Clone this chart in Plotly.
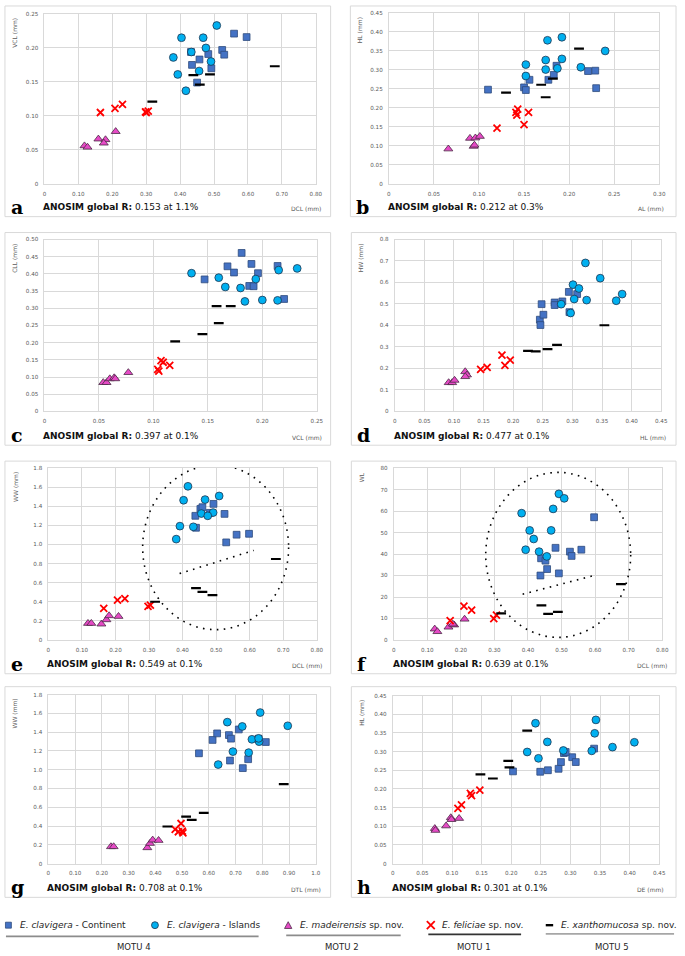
import plotly.graph_objects as go

W, H = 685, 956

# ---------------- DATA ----------------
# Panel a: DCL vs VCL
A_CONT_X = [0.559, 0.596, 0.524, 0.530, 0.483, 0.457, 0.435, 0.492, 0.450, 0.432]
A_CONT_Y = [0.221, 0.216, 0.197, 0.190, 0.191, 0.183, 0.175, 0.170, 0.149, 0.194]
A_ISL_X = [0.508, 0.404, 0.468, 0.476, 0.433, 0.380, 0.491, 0.456, 0.393, 0.417]
A_ISL_Y = [0.233, 0.215, 0.215, 0.200, 0.194, 0.186, 0.180, 0.166, 0.161, 0.137]
A_MAD_X = [0.118, 0.127, 0.159, 0.180, 0.175, 0.210]
A_MAD_Y = [0.056, 0.054, 0.066, 0.065, 0.060, 0.077]
A_FEL_X = [0.165, 0.208, 0.230, 0.298, 0.306, 0.300]
A_FEL_Y = [0.105, 0.111, 0.117, 0.106, 0.107, 0.105]
A_XAN_X = [0.318, 0.439, 0.488, 0.458, 0.679]
A_XAN_Y = [0.121, 0.160, 0.161, 0.146, 0.173]

# Panel b: AL vs HL
B_CONT_X = [0.110, 0.150, 0.152, 0.156, 0.177, 0.183, 0.186, 0.221, 0.229, 0.230]
B_CONT_Y = [0.248, 0.254, 0.247, 0.274, 0.274, 0.287, 0.311, 0.297, 0.298, 0.252]
B_ISL_X = [0.176, 0.192, 0.240, 0.152, 0.174, 0.192, 0.174, 0.187, 0.213, 0.152]
B_ISL_Y = [0.378, 0.386, 0.350, 0.314, 0.326, 0.329, 0.301, 0.304, 0.307, 0.284]
B_MAD_X = [0.066, 0.090, 0.096, 0.101, 0.094, 0.095]
B_MAD_Y = [0.092, 0.120, 0.121, 0.125, 0.099, 0.102]
B_FEL_X = [0.120, 0.143, 0.141, 0.142, 0.155, 0.150]
B_FEL_Y = [0.147, 0.197, 0.188, 0.181, 0.188, 0.156]
B_XAN_X = [0.130, 0.169, 0.174, 0.182, 0.211]
B_XAN_Y = [0.240, 0.261, 0.228, 0.277, 0.356]

# Panel c: VCL vs CLL
C_CONT_X = [0.181, 0.168, 0.190, 0.174, 0.196, 0.214, 0.147, 0.188, 0.192, 0.220]
C_CONT_Y = [0.461, 0.422, 0.429, 0.404, 0.402, 0.423, 0.384, 0.365, 0.364, 0.327]
C_ISL_X = [0.135, 0.160, 0.232, 0.215, 0.194, 0.166, 0.180, 0.184, 0.200, 0.214]
C_ISL_Y = [0.402, 0.389, 0.416, 0.411, 0.385, 0.362, 0.359, 0.320, 0.324, 0.323]
C_MAD_X = [0.054, 0.057, 0.060, 0.064, 0.065, 0.077]
C_MAD_Y = [0.084, 0.084, 0.095, 0.098, 0.095, 0.113]
C_FEL_X = [0.104, 0.105, 0.107, 0.109, 0.115]
C_FEL_Y = [0.122, 0.117, 0.148, 0.143, 0.134]
C_XAN_X = [0.120, 0.145, 0.160, 0.158, 0.171]
C_XAN_Y = [0.204, 0.225, 0.257, 0.306, 0.306]

# Panel d: HL vs HW
D_CONT_X = [0.248, 0.245, 0.246, 0.251, 0.270, 0.270, 0.283, 0.294, 0.308, 0.295]
D_CONT_Y = [0.499, 0.427, 0.402, 0.450, 0.507, 0.495, 0.512, 0.556, 0.546, 0.462]
D_ISL_X = [0.322, 0.347, 0.301, 0.311, 0.303, 0.324, 0.281, 0.297, 0.374, 0.384]
D_ISL_Y = [0.691, 0.620, 0.590, 0.572, 0.523, 0.518, 0.499, 0.458, 0.515, 0.546]
D_MAD_X = [0.091, 0.097, 0.101, 0.119, 0.122, 0.119]
D_MAD_Y = [0.134, 0.134, 0.145, 0.185, 0.170, 0.162]
D_FEL_X = [0.145, 0.156, 0.181, 0.186, 0.195]
D_FEL_Y = [0.196, 0.205, 0.262, 0.214, 0.239]
D_XAN_X = [0.225, 0.238, 0.258, 0.274, 0.354]
D_XAN_Y = [0.282, 0.279, 0.290, 0.310, 0.401]

# Panel e: DCL vs WW
E_CONT_X = [0.440, 0.438, 0.453, 0.459, 0.492, 0.481, 0.525, 0.561, 0.598, 0.530]
E_CONT_Y = [1.175, 1.300, 1.373, 1.390, 1.425, 1.331, 1.320, 1.102, 1.112, 1.022]
E_ISL_X = [0.416, 0.403, 0.467, 0.509, 0.456, 0.491, 0.475, 0.392, 0.432, 0.381]
E_ISL_Y = [1.609, 1.463, 1.470, 1.508, 1.324, 1.334, 1.300, 1.192, 1.185, 1.056]
E_MAD_X = [0.118, 0.128, 0.158, 0.173, 0.181, 0.209]
E_MAD_Y = [0.174, 0.174, 0.167, 0.212, 0.254, 0.247]
E_FEL_X = [0.165, 0.206, 0.228, 0.297, 0.304]
E_FEL_Y = [0.330, 0.417, 0.434, 0.351, 0.365]
E_XAN_X = [0.318, 0.440, 0.459, 0.489, 0.678]
E_XAN_Y = [0.400, 0.542, 0.504, 0.469, 0.848]

# Panel f: DCL vs WL
F_CONT_X = [0.597, 0.482, 0.525, 0.559, 0.530, 0.439, 0.452, 0.457, 0.492, 0.437]
F_CONT_Y = [57.1, 42.9, 41.1, 42.0, 39.1, 38.0, 36.9, 33.0, 31.0, 30.0]
F_ISL_X = [0.492, 0.508, 0.475, 0.381, 0.405, 0.469, 0.417, 0.393, 0.433, 0.456]
F_ISL_Y = [68.0, 65.9, 61.0, 59.0, 51.0, 51.0, 47.0, 42.0, 41.1, 38.9]
F_MAD_X = [0.122, 0.130, 0.163, 0.180, 0.176, 0.211]
F_MAD_Y = [5.1, 3.9, 6.0, 7.0, 7.4, 9.7]
F_FEL_X = [0.168, 0.209, 0.232, 0.298, 0.306]
F_FEL_Y = [9.0, 15.8, 13.9, 9.9, 11.6]
F_XAN_X = [0.320, 0.440, 0.460, 0.489, 0.677]
F_XAN_Y = [12.4, 16.1, 12.1, 13.1, 26.0]

# Panel g: DTL vs WW
G_CONT_X = [0.563, 0.614, 0.631, 0.675, 0.683, 0.712, 0.679, 0.727, 0.747, 0.813, 0.786]
G_CONT_Y = [1.175, 1.317, 1.387, 1.369, 1.331, 1.429, 1.098, 1.017, 1.112, 1.295, 1.330]
G_ISL_X = [0.792, 0.669, 0.725, 0.895, 0.761, 0.788, 0.690, 0.749, 0.635, 0.786]
G_ISL_Y = [1.609, 1.507, 1.461, 1.468, 1.324, 1.299, 1.193, 1.182, 1.055, 1.334]
G_MAD_X = [0.234, 0.244, 0.370, 0.380, 0.390, 0.412]
G_MAD_Y = [0.180, 0.180, 0.169, 0.215, 0.251, 0.247]
G_FEL_X = [0.474, 0.486, 0.496, 0.501, 0.503]
G_FEL_Y = [0.364, 0.339, 0.427, 0.346, 0.328]
G_XAN_X = [0.445, 0.515, 0.536, 0.581, 0.880]
G_XAN_Y = [0.395, 0.501, 0.466, 0.540, 0.847]

# Panel h: DE vs HL
H_CONT_X = [0.203, 0.249, 0.262, 0.280, 0.284, 0.289, 0.303, 0.309, 0.340, 0.292]
H_CONT_Y = [0.247, 0.246, 0.250, 0.254, 0.272, 0.296, 0.285, 0.272, 0.308, 0.299]
H_ISL_X = [0.241, 0.343, 0.341, 0.227, 0.261, 0.246, 0.288, 0.336, 0.371, 0.408]
H_ISL_Y = [0.376, 0.385, 0.349, 0.299, 0.326, 0.282, 0.303, 0.302, 0.312, 0.325]
H_MAD_X = [0.071, 0.072, 0.090, 0.098, 0.099, 0.112]
H_MAD_Y = [0.094, 0.089, 0.101, 0.123, 0.118, 0.121]
H_FEL_X = [0.110, 0.116, 0.131, 0.133, 0.147]
H_FEL_Y = [0.148, 0.157, 0.188, 0.182, 0.197]
H_XAN_X = [0.148, 0.169, 0.195, 0.197, 0.227]
H_XAN_Y = [0.239, 0.228, 0.275, 0.258, 0.356]

# Tick values / labels
T_0_80_V = [0, 0.1, 0.2, 0.3, 0.4, 0.5, 0.6, 0.7, 0.8]
T_0_80_L = ["0", "0.10", "0.20", "0.30", "0.40", "0.50", "0.60", "0.70", "0.80"]
T_0_25_V = [0, 0.05, 0.10, 0.15, 0.20, 0.25]
T_0_25_L = ["0", "0.05", "0.10", "0.15", "0.20", "0.25"]
T_0_30_V = [0, 0.05, 0.10, 0.15, 0.20, 0.25, 0.30]
T_0_30_L = ["0", "0.05", "0.10", "0.15", "0.20", "0.25", "0.30"]
T_0_45_V = [0, 0.05, 0.10, 0.15, 0.20, 0.25, 0.30, 0.35, 0.40, 0.45]
T_0_45_L = ["0", "0.05", "0.10", "0.15", "0.20", "0.25", "0.30", "0.35", "0.40", "0.45"]
T_0_50_V = [0, 0.05, 0.10, 0.15, 0.20, 0.25, 0.30, 0.35, 0.40, 0.45, 0.50]
T_0_50_L = ["0", "0.05", "0.10", "0.15", "0.20", "0.25", "0.30", "0.35", "0.40", "0.45", "0.50"]
T_HW_V = [0, 0.1, 0.2, 0.3, 0.4, 0.5, 0.6, 0.7, 0.8]
T_HW_L = ["0", "0.1", "0.2", "0.3", "0.4", "0.5", "0.6", "0.7", "0.8"]
T_WW_V = [0, 0.2, 0.4, 0.6, 0.8, 1.0, 1.2, 1.4, 1.6, 1.8]
T_WW_L = ["0", "0.2", "0.4", "0.6", "0.8", "1.0", "1.2", "1.4", "1.6", "1.8"]
T_WL_V = [0, 10, 20, 30, 40, 50, 60, 70, 80]
T_WL_L = ["0", "10", "20", "30", "40", "50", "60", "70", "80"]
T_DTL_V = [0, 0.1, 0.2, 0.3, 0.4, 0.5, 0.6, 0.7, 0.8, 0.9, 1.0]
T_DTL_L = ["0", "0.10", "0.20", "0.30", "0.40", "0.50", "0.60", "0.70", "0.80", "0.90", "1.0"]

LETTERS = ["a", "b", "c", "d", "e", "f", "g", "h"]
X_TITLES = ["DCL (mm)", "AL (mm)", "VCL (mm)", "HL (mm)", "DCL (mm)", "DCL (mm)", "DTL (mm)", "DE (mm)"]
Y_TITLES = ["VCL (mm)", "HL (mm)", "CLL (mm)", "HW (mm)", "WW (mm)", "WL", "WW (mm)", "HL (mm)"]
ANOSIM_R = ["0.153", "0.212", "0.397", "0.477", "0.549", "0.639", "0.708", "0.301"]
ANOSIM_P = ["1.1%", "0.3%", "0.1%", "0.1%", "0.1%", "0.1%", "0.1%", "0.1%"]

SERIES_NAMES = ["<i>E. clavigera</i> - Continent", "<i>E. clavigera</i> - Islands",
                "<i>E. madeirensis</i> sp. nov.", "<i>E. feliciae</i> sp. nov.",
                "<i>E. xanthomucosa</i> sp. nov."]
MOTU_LABELS = ["MOTU 4", "MOTU 2", "MOTU 1", "MOTU 5"]

# ---------------- STYLE / LAYOUT ----------------
C_CONT, C_CONT_LINE = "#4472C4", "#2F4B7C"
C_ISL, C_ISL_LINE = "#00B0F0", "#1F3550"
C_MAD, C_MAD_LINE = "#E64AC6", "#4A2A45"
C_FEL = "#FF0000"
C_XAN = "#000000"
GRID = "#D9D9D9"
TICKC = "#595959"
FONT = "DejaVu Sans"

panels = [
    dict(data=[(A_CONT_X, A_CONT_Y), (A_ISL_X, A_ISL_Y), (A_MAD_X, A_MAD_Y), (A_FEL_X, A_FEL_Y), (A_XAN_X, A_XAN_Y)],
         xr=0.8, yr=0.25, xt=(T_0_80_V, T_0_80_L), yt=(T_0_25_V, T_0_25_L),
         plot=(43, 318, 11, 182), box=(3, 333, 3, 215)),
    dict(data=[(B_CONT_X, B_CONT_Y), (B_ISL_X, B_ISL_Y), (B_MAD_X, B_MAD_Y), (B_FEL_X, B_FEL_Y), (B_XAN_X, B_XAN_Y)],
         xr=0.30, yr=0.45, xt=(T_0_30_V, T_0_30_L), yt=(T_0_45_V, T_0_45_L),
         plot=(392, 666, 10, 182), box=(353, 683, 3, 215)),
    dict(data=[(C_CONT_X, C_CONT_Y), (C_ISL_X, C_ISL_Y), (C_MAD_X, C_MAD_Y), (C_FEL_X, C_FEL_Y), (C_XAN_X, C_XAN_Y)],
         xr=0.25, yr=0.50, xt=(T_0_25_V, T_0_25_L), yt=(T_0_50_V, T_0_50_L),
         plot=(43, 319, 238, 411), box=(3, 333, 231, 445)),
    dict(data=[(D_CONT_X, D_CONT_Y), (D_ISL_X, D_ISL_Y), (D_MAD_X, D_MAD_Y), (D_FEL_X, D_FEL_Y), (D_XAN_X, D_XAN_Y)],
         xr=0.45, yr=0.8, xt=(T_0_45_V, T_0_45_L), yt=(T_HW_V, T_HW_L),
         plot=(398, 668, 238, 411), box=(354, 683, 231, 445)),
    dict(data=[(E_CONT_X, E_CONT_Y), (E_ISL_X, E_ISL_Y), (E_MAD_X, E_MAD_Y), (E_FEL_X, E_FEL_Y), (E_XAN_X, E_XAN_Y)],
         xr=0.8, yr=1.8, xt=(T_0_80_V, T_0_80_L), yt=(T_WW_V, T_WW_L),
         plot=(47, 319, 468, 641), box=(3, 333, 461, 675)),
    dict(data=[(F_CONT_X, F_CONT_Y), (F_ISL_X, F_ISL_Y), (F_MAD_X, F_MAD_Y), (F_FEL_X, F_FEL_Y), (F_XAN_X, F_XAN_Y)],
         xr=0.8, yr=80, xt=(T_0_80_V, T_0_80_L), yt=(T_WL_V, T_WL_L),
         plot=(397, 669, 468, 641), box=(354, 683, 461, 675)),
    dict(data=[(G_CONT_X, G_CONT_Y), (G_ISL_X, G_ISL_Y), (G_MAD_X, G_MAD_Y), (G_FEL_X, G_FEL_Y), (G_XAN_X, G_XAN_Y)],
         xr=1.0, yr=1.8, xt=(T_DTL_V, T_DTL_L), yt=(T_WW_V, T_WW_L),
         plot=(47, 318, 696, 866), box=(3, 333, 688, 900)),
    dict(data=[(H_CONT_X, H_CONT_Y), (H_ISL_X, H_ISL_Y), (H_MAD_X, H_MAD_Y), (H_FEL_X, H_FEL_Y), (H_XAN_X, H_XAN_Y)],
         xr=0.45, yr=0.45, xt=(T_0_45_V, T_0_45_L), yt=(T_0_45_V, T_0_45_L),
         plot=(396, 666, 697, 866), box=(354, 683, 688, 900)),
]

marker_styles = [
    dict(symbol="square", size=6.8, color=C_CONT, line=dict(color=C_CONT_LINE, width=0.8)),
    dict(symbol="circle", size=7.8, color=C_ISL, line=dict(color=C_ISL_LINE, width=0.8)),
    dict(symbol="triangle-up", size=7.8, color=C_MAD, line=dict(color=C_MAD_LINE, width=0.8)),
    dict(symbol="x-thin", size=7, color=C_FEL, line=dict(color=C_FEL, width=1.8)),
    dict(symbol="line-ew", size=7, color=C_XAN, line=dict(color=C_XAN, width=2.2)),
]


def px(x):
    return x / W


def py(y):
    return 1 - y / H


fig = go.Figure()
layout = dict(width=W, height=H, margin=dict(l=0, r=0, t=0, b=0),
              paper_bgcolor="white", plot_bgcolor="white", showlegend=False)
annotations = []
shapes = []

for i, p in enumerate(panels):
    n = i + 1
    xa = "x" if n == 1 else f"x{n}"
    ya = "y" if n == 1 else f"y{n}"
    xkey = "xaxis" if n == 1 else f"xaxis{n}"
    ykey = "yaxis" if n == 1 else f"yaxis{n}"
    x0, x1, y0, y1 = p["plot"]
    common = dict(showgrid=True, gridcolor=GRID, gridwidth=1, zeroline=False,
                  showline=True, linecolor=GRID, linewidth=1, mirror=True,
                  ticks="outside", ticklen=4, tickcolor="rgba(0,0,0,0)",
                  tickfont=dict(family=FONT, size=5.6, color=TICKC), fixedrange=True)
    layout[xkey] = dict(domain=[px(x0), px(x1)], range=[0, p["xr"]], anchor=ya,
                        tickmode="array", tickvals=p["xt"][0], ticktext=p["xt"][1], **common)
    layout[ykey] = dict(domain=[py(y1), py(y0)], range=[0, p["yr"]], anchor=xa,
                        tickmode="array", tickvals=p["yt"][0], ticktext=p["yt"][1], **common)
    for k, (xs, ys) in enumerate(p["data"]):
        fig.add_trace(go.Scatter(x=xs, y=ys, mode="markers", xaxis=xa, yaxis=ya,
                                 name=SERIES_NAMES[k], marker=marker_styles[k],
                                 hoverinfo="x+y+name"))
    # panel frame
    bx0, bx1, by0, by1 = p["box"]
    shapes.append(dict(type="rect", xref="paper", yref="paper", x0=px(bx0), x1=px(bx1),
                       y0=py(by1), y1=py(by0), line=dict(color=GRID, width=1), layer="below"))
    # panel letter
    annotations.append(dict(text=f"<b>{LETTERS[i]}</b>", xref="paper", yref="paper",
                            x=px(bx0 + 4), y=py(by1 - 10), xanchor="left", yanchor="middle",
                            showarrow=False, font=dict(family="DejaVu Serif", size=19, color="black")))
    # ANOSIM text
    annotations.append(dict(text=f"<b>ANOSIM global R:</b> {ANOSIM_R[i]} at {ANOSIM_P[i]}",
                            xref="paper", yref="paper", x=px(x0 - 3), y=py(by1 - 9.5),
                            xanchor="left", yanchor="middle", showarrow=False,
                            font=dict(family=FONT, size=9, color="#111111")))
    # x title
    annotations.append(dict(text=X_TITLES[i], xref="paper", yref="paper", x=px(x1 + 7),
                            y=py(by1 - 8), xanchor="right", yanchor="middle", showarrow=False,
                            font=dict(family=FONT, size=6, color=TICKC)))
    # y title
    annotations.append(dict(text=Y_TITLES[i], xref="paper", yref="paper", x=px(bx0 + 10),
                            y=py(y0 + 2), xanchor="center", yanchor="top", textangle=-90,
                            showarrow=False, font=dict(family=FONT, size=6, color=TICKC)))

# dotted ellipses (panels e and f)
DOT = dict(color="black", width=1.6, dash="1.6px,5.4px")
shapes.append(dict(type="circle", xref="x5", yref="y5", x0=0.281, x1=0.716, y0=0.108, y1=1.83, line=DOT))
shapes.append(dict(type="line", xref="x5", yref="y5", x0=0.391, y0=0.695, x1=0.612, y1=0.938, line=DOT))
shapes.append(dict(type="circle", xref="x6", yref="y6", x0=0.274, x1=0.706, y0=1.2, y1=78, line=DOT))
shapes.append(dict(type="line", xref="x6", yref="y6", x0=0.384, y0=21.3, x1=0.592, y1=29.8, line=DOT))

# ---------------- custom legend ----------------
LY = 928
# square
shapes.append(dict(type="rect", xref="paper", yref="paper", x0=px(3.5), x1=px(9.5), y0=py(LY + 3), y1=py(LY - 3),
                   fillcolor=C_CONT, line=dict(color=C_CONT_LINE, width=0.8)))
# circle
shapes.append(dict(type="circle", xref="paper", yref="paper", x0=px(151.5), x1=px(158.5), y0=py(LY + 3.5), y1=py(LY - 3.5),
                   fillcolor=C_ISL, line=dict(color=C_ISL_LINE, width=0.8)))
# triangle
tri = f"M {px(286.3)} {py(LY + 3.3)} L {px(293.7)} {py(LY + 3.3)} L {px(290)} {py(LY - 3.5)} Z"
shapes.append(dict(type="path", xref="paper", yref="paper", path=tri,
                   fillcolor=C_MAD, line=dict(color=C_MAD_LINE, width=0.8)))
# X
shapes.append(dict(type="line", xref="paper", yref="paper", x0=px(430.5), x1=px(438.5), y0=py(LY - 4), y1=py(LY + 4),
                   line=dict(color=C_FEL, width=1.8)))
shapes.append(dict(type="line", xref="paper", yref="paper", x0=px(430.5), x1=px(438.5), y0=py(LY + 4), y1=py(LY - 4),
                   line=dict(color=C_FEL, width=1.8)))
# dash
shapes.append(dict(type="line", xref="paper", yref="paper", x0=px(551), x1=px(558.5), y0=py(LY), y1=py(LY),
                   line=dict(color=C_XAN, width=2.4)))

leg_text_x = [16, 165, 300, 444, 564]
for t, xx in zip(SERIES_NAMES, leg_text_x):
    annotations.append(dict(text=t, xref="paper", yref="paper", x=px(xx), y=py(LY), xanchor="left",
                            yanchor="middle", showarrow=False, font=dict(family=FONT, size=9, color="#262626")))

motu_lines = [(4, 260, 939.3, "#8C8C8C"), (288, 404, 938.3, "#8C8C8C"), (432, 526, 937.3, "#333333"), (551, 681, 936.7, "#A6A6A6")]
motu_cx = [134, 345, 478, 618]
for (a0, a1, yy, col), lab, cx in zip(motu_lines, MOTU_LABELS, motu_cx):
    shapes.append(dict(type="line", xref="paper", yref="paper", x0=px(a0), x1=px(a1), y0=py(yy), y1=py(yy),
                       line=dict(color=col, width=1.8)))
    annotations.append(dict(text=lab, xref="paper", yref="paper", x=px(cx), y=py(949.5), xanchor="center",
                            yanchor="middle", showarrow=False, font=dict(family=FONT, size=8.5, color="#262626")))

layout["annotations"] = annotations
layout["shapes"] = shapes
fig.update_layout(**layout)
fig.write_html("out.html", config={"displayModeBar": False},
               post_script="document.body.style.margin='0';document.body.style.overflow='hidden';")
